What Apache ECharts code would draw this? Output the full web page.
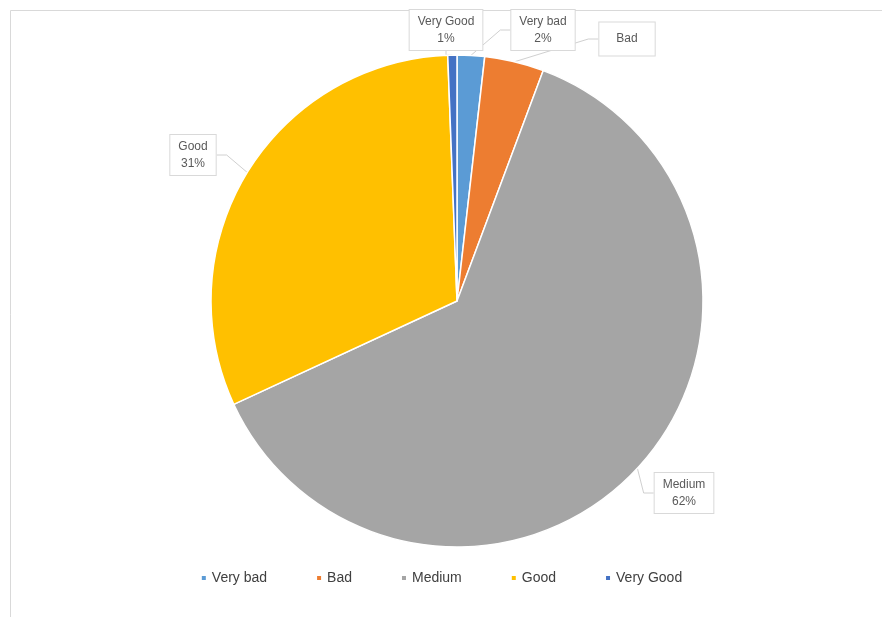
<!DOCTYPE html>
<html>
<head>
<meta charset="utf-8">
<style>
  html, body { margin: 0; padding: 0; background: #ffffff; }
  #chart { width: 882px; height: 617px; }
</style>
<script src="https://cdn.jsdelivr.net/npm/echarts@6/dist/echarts.min.js"></script>
</head>
<body>
<div id="chart"></div>
<script>
// Data
const categories = ['Very bad', 'Bad', 'Medium', 'Good', 'Very Good'];
const values = [1.8, 3.9, 62.4, 31.3, 0.6];
const showPercent = [true, false, true, true, true];

// Styling
const colors = ['#5B9BD5', '#ED7D31', '#A5A5A5', '#FFC000', '#4472C4'];
const labelPos = [[543, 30], [627, 39], [684, 493], [193, 155], [446, 30]];
const labelPadding = [[3, 8], [8, 17], [3, 8], [3, 8], [3, 8]];

const total = values.reduce((a, b) => a + b, 0);

const chart = echarts.init(document.getElementById('chart'), null, { renderer: 'canvas' });

chart.setOption({
  backgroundColor: '#ffffff',
  animation: false,
  color: colors,
  graphic: [{
    type: 'rect',
    shape: { x: 10.5, y: 10.5, width: 1000, height: 1000 },
    style: { fill: 'none', stroke: '#d9d9d9', lineWidth: 1 },
    silent: true,
    z: -10
  }],
  legend: {
    data: categories,
    left: 'center',
    top: 566,
    icon: 'rect',
    itemWidth: 6,
    itemHeight: 6,
    itemGap: 48,
    textStyle: {
      fontFamily: 'Liberation Sans, Arial, sans-serif',
      fontSize: 14,
      color: '#404040'
    }
  },
  series: [{
    type: 'pie',
    center: [457, 301],
    radius: [0, 246],
    startAngle: 90,
    clockwise: true,
    avoidLabelOverlap: false,
    itemStyle: { borderColor: '#ffffff', borderWidth: 1.5 },
    label: {
      show: true,
      position: 'outside',
      fontFamily: 'Liberation Sans, Arial, sans-serif',
      fontSize: 12,
      lineHeight: 17,
      color: '#595959',
      backgroundColor: '#ffffff',
      borderColor: '#d9d9d9',
      borderWidth: 1,
      padding: [3, 8],
      formatter: function (p) {
        const i = p.dataIndex;
        const pct = Math.round(values[i] / total * 100);
        return showPercent[i] ? categories[i] + '\n' + pct + '%' : categories[i];
      }
    },
    labelLine: {
      show: true,
      length: 10,
      length2: 10,
      lineStyle: { color: '#d0d0d0', width: 1 }
    },
    labelLayout: function (params) {
      const p = labelPos[params.dataIndex];
      return { x: p[0], y: p[1], align: 'center', verticalAlign: 'middle' };
    },
    emphasis: { disabled: true },
    data: categories.map((c, i) => ({
      name: c,
      value: values[i],
      label: { padding: labelPadding[i] }
    }))
  }]
});
</script>
</body>
</html>
